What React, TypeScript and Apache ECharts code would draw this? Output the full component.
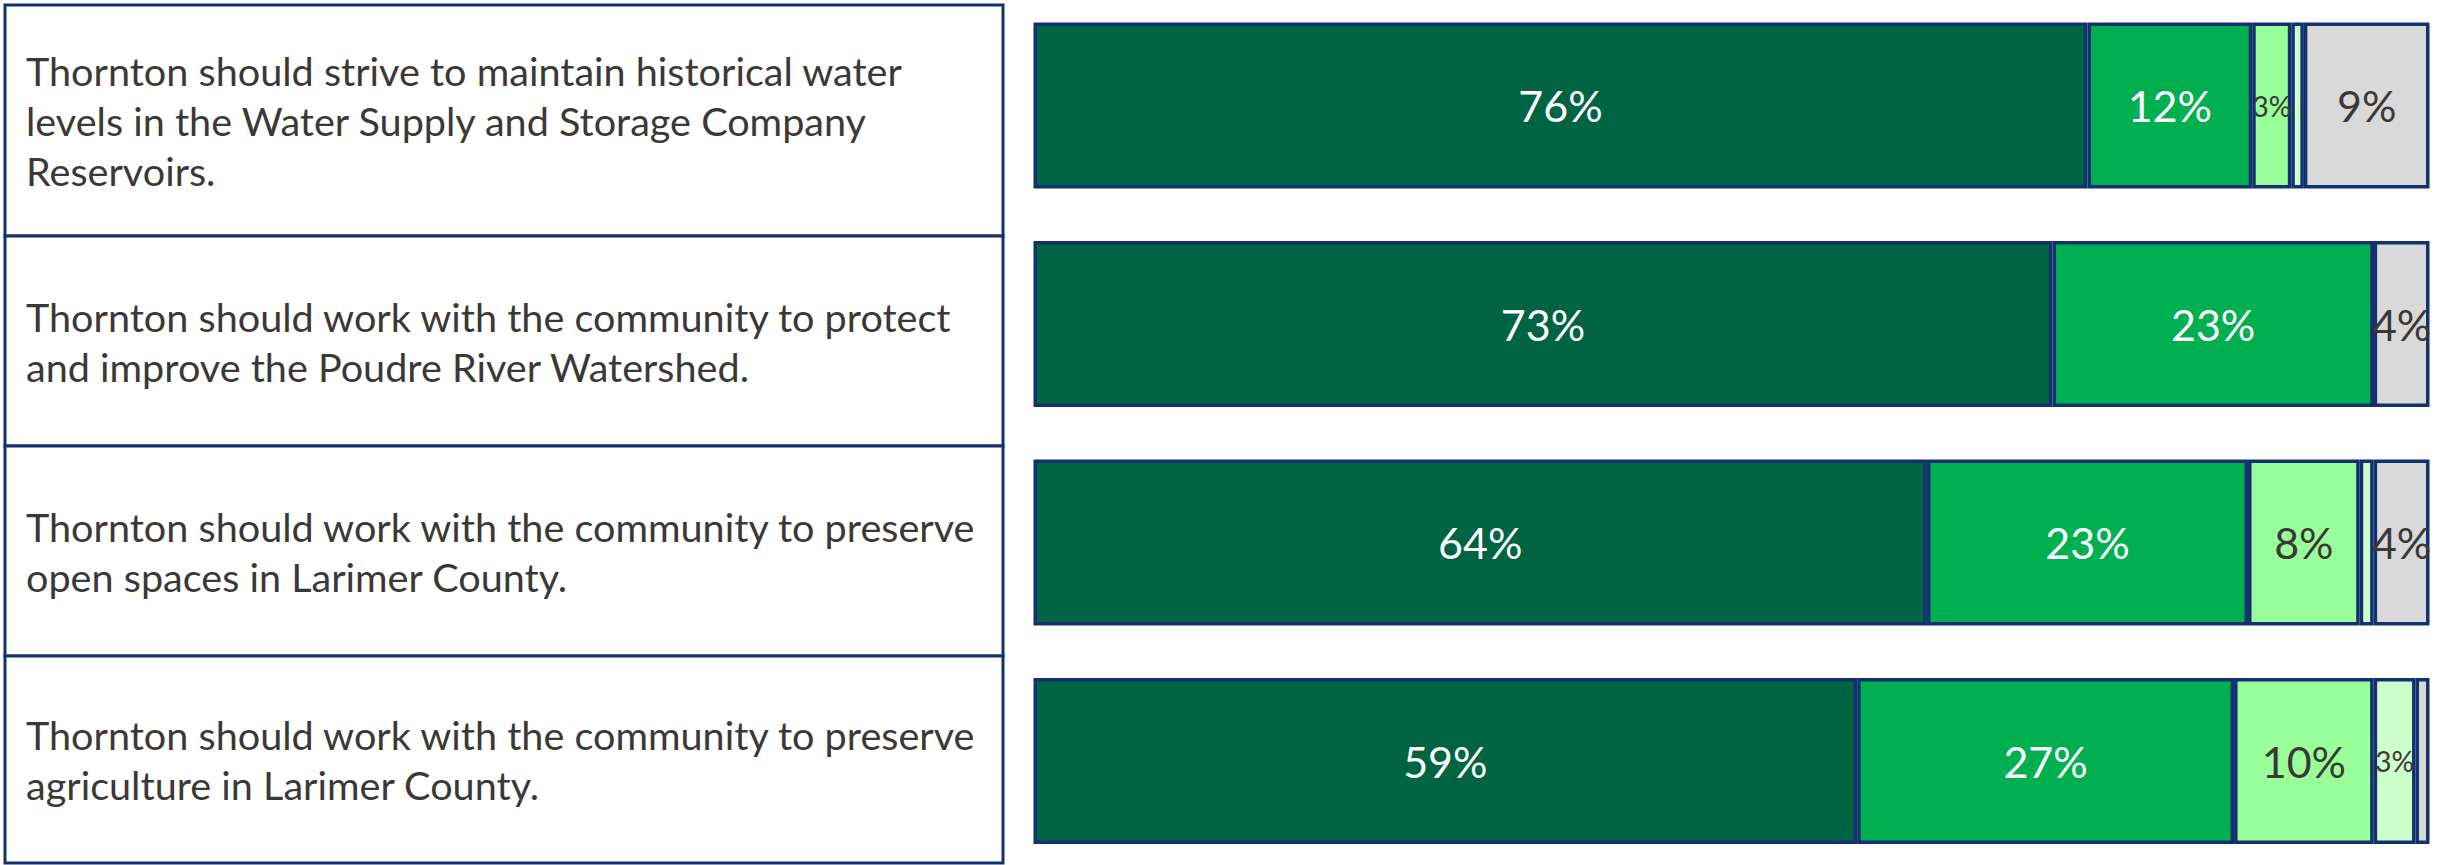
import React, { useEffect, useRef } from "react";
import * as echarts from "echarts";

// ---- data ----
const statements = [
  "Thornton should strive to maintain historical water\nlevels in the Water Supply and Storage Company\nReservoirs.",
  "Thornton should work with the community to protect\nand improve the Poudre River Watershed.",
  "Thornton should work with the community to preserve\nopen spaces in Larimer County.",
  "Thornton should work with the community to preserve\nagriculture in Larimer County.",
];
const seriesNames = ["Strongly agree", "Agree", "Disagree", "Strongly disagree", "Don't know"];
const stronglyAgree = [75.5, 73, 64, 59];
const agree = [11.8, 23, 23, 27];
const disagree = [2.8, 0, 8, 10];
const stronglyDisagree = [0.9, 0, 1, 3];
const dontKnow = [9.0, 4, 4, 1];
const seriesValues = [stronglyAgree, agree, disagree, stronglyDisagree, dontKnow];

// ---- styles ----
const segColors = ["#006341", "#00B050", "#99FF99", "#CCFFCC", "#D9D9D9"];
const labelColors = ["#FFFFFF", "#FFFFFF", "#3B3838", "#3B3838", "#3B3838"];
const NAVY = "#13306F";
const FONT = "Lato, 'Open Sans', sans-serif";
const boxEdges = [5, 236, 446, 656, 863];

export default function App() {
  const ref = useRef<HTMLDivElement>(null);
  useEffect(() => {
    if (!ref.current) return;
    const chart = echarts.init(ref.current, undefined, { renderer: "svg" });

    const series = seriesValues.map((vals, si) => ({
      name: seriesNames[si],
      type: "bar",
      stack: "total",
      barWidth: 166,
      itemStyle: { color: segColors[si], borderColor: NAVY, borderWidth: 3.5 },
      label: {
        show: true,
        position: "inside",
        color: labelColors[si],
        fontFamily: FONT,
        formatter: (p: any) => (p.value >= 2 ? Math.round(p.value) + "%" : ""),
      },
      data: vals.map((v) => ({
        value: v,
        label: { fontSize: v < 5 && si >= 2 && si < 4 ? 28 : 43 },
      })),
    }));

    const graphics: any[] = [];
    for (let i = 0; i < statements.length; i++) {
      const y0 = boxEdges[i];
      const y1 = boxEdges[i + 1];
      graphics.push({
        type: "rect",
        shape: { x: 5, y: y0, width: 998, height: y1 - y0 },
        style: { fill: "#FFFFFF", stroke: NAVY, lineWidth: 3 },
        silent: true,
      });
      graphics.push({
        type: "text",
        x: 26,
        y: (y0 + y1) / 2,
        style: {
          text: statements[i],
          fontSize: 39.6,
          fontFamily: FONT,
          fill: "#3B3838",
          lineHeight: 50,
          align: "left",
          verticalAlign: "middle",
          textAlign: "left",
          textVerticalAlign: "middle",
        },
        silent: true,
      });
    }

    chart.setOption({
      animation: false,
      backgroundColor: "#FFFFFF",
      grid: { left: 1033.5, right: 13.5, top: 105.5, bottom: 104, containLabel: false },
      xAxis: { type: "value", min: 0, max: 100, show: false },
      yAxis: { type: "category", data: statements, inverse: true, boundaryGap: false, show: false },
      series,
      graphic: graphics,
    });
    return () => chart.dispose();
  }, []);
  return (
    <div
      ref={ref}
      style={{ position: "fixed", left: 0, top: 0, width: 2443, height: 865 }}
    />
  );
}
